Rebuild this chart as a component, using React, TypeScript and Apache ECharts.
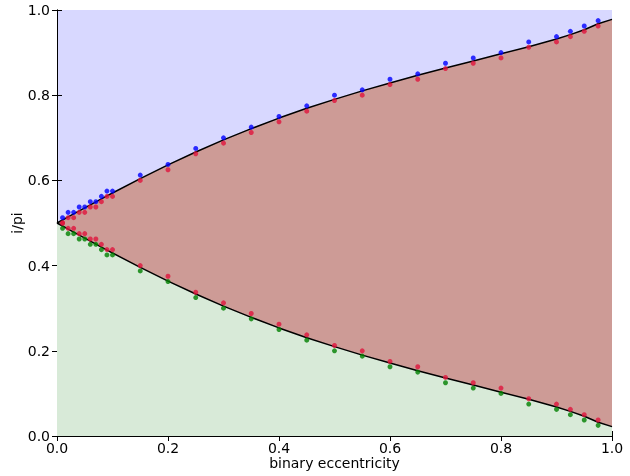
import React, { useEffect, useRef } from "react";
import * as echarts from "echarts";

// curve samples (binary eccentricity -> i/pi)
const eCurve = [0, 0.01, 0.02, 0.03, 0.04, 0.05, 0.06, 0.07, 0.08, 0.09, 0.1,
  0.15, 0.2, 0.25, 0.3, 0.35, 0.4, 0.45, 0.5, 0.55, 0.6, 0.65, 0.7, 0.75, 0.8, 0.85, 0.9,
  0.925, 0.95, 0.975, 1.0];
const upperCurve = [0.5, 0.5071, 0.5142, 0.5213, 0.5284, 0.5355, 0.5425, 0.5495, 0.5565, 0.5635, 0.5704,
  0.6041, 0.6363, 0.6667, 0.6951, 0.7215, 0.7463, 0.7692, 0.7902, 0.8101, 0.8288, 0.8468, 0.8638, 0.8805, 0.8971, 0.9139, 0.9321,
  0.9422, 0.9535, 0.9677, 0.978];
const lowerCurve = [0.5, 0.4929, 0.4858, 0.4787, 0.4716, 0.4645, 0.4575, 0.4505, 0.4435, 0.4365, 0.4296,
  0.3959, 0.3637, 0.3333, 0.3049, 0.2785, 0.2537, 0.2308, 0.2098, 0.1899, 0.1712, 0.1532, 0.1362, 0.1195, 0.1029, 0.0861, 0.0679,
  0.0578, 0.0465, 0.0323, 0.022];

// simulated points
const eDots = [0.01, 0.02, 0.03, 0.04, 0.05, 0.06, 0.07, 0.08, 0.09, 0.1,
  0.15, 0.2, 0.25, 0.3, 0.35, 0.4, 0.45, 0.5, 0.55, 0.6, 0.65, 0.7, 0.75, 0.8, 0.85, 0.9,
  0.925, 0.95, 0.975];
const blueDots = [0.5125, 0.525, 0.525, 0.5375, 0.5375, 0.55, 0.55, 0.5625, 0.575, 0.575,
  0.6125, 0.6375, 0.675, 0.7, 0.725, 0.75, 0.775, 0.8, 0.8125, 0.8375, 0.85, 0.875, 0.8875, 0.9, 0.925, 0.9375,
  0.95, 0.9625, 0.975];
const redUpperDots = [0.5, 0.5125, 0.5125, 0.525, 0.525, 0.5375, 0.5375, 0.55, 0.5625, 0.5625,
  0.6, 0.625, 0.6625, 0.6875, 0.7125, 0.7375, 0.7625, 0.7875, 0.8, 0.825, 0.8375, 0.8625, 0.875, 0.8875, 0.9125, 0.925,
  0.9375, 0.95, 0.9625];
const redLowerDots = [0.5, 0.4875, 0.4875, 0.475, 0.475, 0.4625, 0.4625, 0.45, 0.4375, 0.4375,
  0.4, 0.375, 0.3375, 0.3125, 0.2875, 0.2625, 0.2375, 0.2125, 0.2, 0.175, 0.1625, 0.1375, 0.125, 0.1125, 0.0875, 0.075,
  0.0625, 0.05, 0.0375];
const greenDots = [0.4875, 0.475, 0.475, 0.4625, 0.4625, 0.45, 0.45, 0.4375, 0.425, 0.425,
  0.3875, 0.3625, 0.325, 0.3, 0.275, 0.25, 0.225, 0.2, 0.1875, 0.1625, 0.15, 0.125, 0.1125, 0.1, 0.075, 0.0625,
  0.05, 0.0375, 0.025];

const xTitle = "binary eccentricity";
const yTitle = "i/pi";

const FONT = "DejaVu Sans";

export default function App() {
  const ref = useRef<HTMLDivElement>(null);
  useEffect(() => {
    if (!ref.current) return;
    const chart = echarts.init(ref.current, null, { renderer: "svg" });
    const pair = (xs: number[], ys: number[]) => xs.map((x, i) => [x, ys[i]]);
    const axisCommon = {
      type: "value" as const,
      min: 0,
      max: 1,
      interval: 0.2,
      splitLine: { show: false },
      axisLine: { show: true, lineStyle: { color: "#000", width: 1 } },
      axisTick: { show: true, inside: true, length: 5, lineStyle: { color: "#000" } },
    };
    const label = {
      color: "#000",
      fontFamily: FONT,
      fontSize: 14,
      formatter: (v: number) => v.toFixed(1),
    };
    const dot = (name: string, ys: number[], color: string) => ({
      name,
      type: "scatter",
      data: pair(eDots, ys),
      symbol: "circle",
      symbolSize: 5,
      itemStyle: { color },
      z: 5,
    });
    chart.setOption({
      animation: false,
      grid: {
        left: 57,
        right: 18,
        top: 10,
        bottom: 40,
        containLabel: false,
        outerBoundsMode: "none",
        show: true,
        backgroundColor: "#d8d8ff",
        borderWidth: 0,
      },
      xAxis: [
        {
          ...axisCommon,
          position: "bottom",
          axisLabel: { ...label, margin: 5 },
          name: xTitle,
          nameLocation: "middle",
          nameGap: 20,
          nameMoveOverlap: false,
          nameTextStyle: { color: "#000", fontFamily: FONT, fontSize: 14 },
        },
        {
          ...axisCommon,
          position: "top",
          axisLabel: { show: false },
        },
      ],
      yAxis: [
        {
          ...axisCommon,
          position: "left",
          axisLabel: { ...label, margin: 7 },
          name: yTitle,
          nameLocation: "middle",
          nameGap: 33,
          nameMoveOverlap: false,
          nameRotate: 90,
          nameTextStyle: { color: "#000", fontFamily: FONT, fontSize: 14 },
        },
        {
          ...axisCommon,
          position: "right",
          axisLabel: { show: false },
        },
      ],
      series: [
        {
          name: "upper",
          type: "line",
          data: pair(eCurve, upperCurve),
          showSymbol: false,
          smooth: false,
          lineStyle: { color: "#000", width: 1.5 },
          areaStyle: { color: "#cd9b96", opacity: 1 },
          z: 2,
        },
        {
          name: "lower",
          type: "line",
          data: pair(eCurve, lowerCurve),
          showSymbol: false,
          smooth: false,
          lineStyle: { color: "#000", width: 1.5 },
          areaStyle: { color: "#d8ead8", opacity: 1 },
          z: 3,
        },
        dot("blue", blueDots, "#0000ff"),
        dot("green", greenDots, "#008000"),
        dot("red upper", redUpperDots, "#e0143c"),
        dot("red lower", redLowerDots, "#e0143c"),
      ],
    });
    return () => chart.dispose();
  }, []);
  return (
    <div
      ref={ref}
      style={{ position: "fixed", left: 0, top: 0, width: 630, height: 476 }}
    />
  );
}
